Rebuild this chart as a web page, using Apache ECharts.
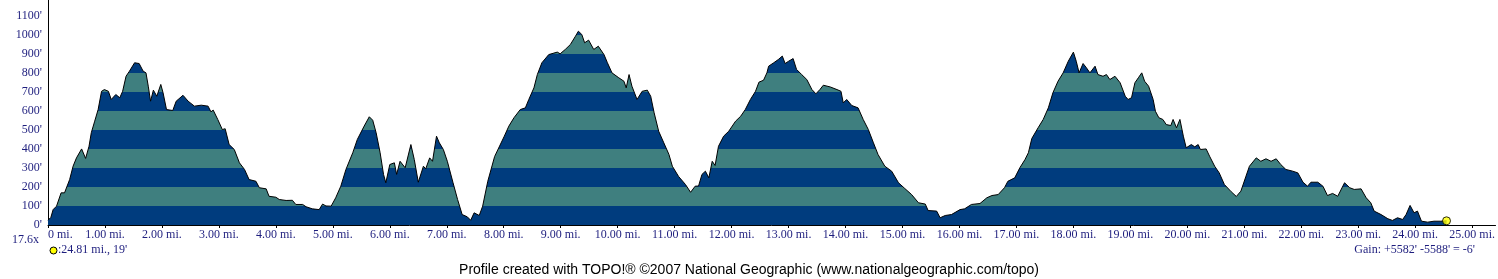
<!DOCTYPE html>
<html><head><meta charset="utf-8">
<script src="https://cdn.jsdelivr.net/npm/echarts@6/dist/echarts.min.js"></script>
<style>html,body{margin:0;padding:0;background:#fff}#c{width:1498px;height:279px}</style>
</head><body><div id="c"></div>
<script>
const miles = [0.00,0.05,0.09,0.15,0.23,0.29,0.38,0.44,0.50,0.59,0.66,0.72,0.76,0.82,0.88,0.94,0.99,1.06,1.11,1.19,1.26,1.31,1.37,1.43,1.52,1.60,1.67,1.72,1.76,1.80,1.85,1.91,1.98,2.02,2.08,2.19,2.25,2.37,2.46,2.57,2.69,2.81,2.86,2.90,2.98,3.06,3.11,3.18,3.27,3.36,3.45,3.53,3.65,3.71,3.83,3.88,4.00,4.06,4.18,4.29,4.35,4.47,4.53,4.64,4.76,4.82,4.88,4.97,5.05,5.14,5.23,5.35,5.43,5.55,5.64,5.70,5.76,5.83,5.89,5.93,6.00,6.08,6.12,6.18,6.27,6.37,6.43,6.50,6.59,6.63,6.70,6.75,6.82,6.87,6.94,7.01,7.11,7.19,7.27,7.36,7.42,7.48,7.57,7.63,7.72,7.84,8.01,8.09,8.18,8.29,8.38,8.44,8.53,8.59,8.67,8.79,8.94,8.99,9.08,9.17,9.26,9.31,9.37,9.42,9.49,9.58,9.66,9.76,9.82,9.90,10.02,10.11,10.15,10.20,10.25,10.34,10.43,10.52,10.58,10.64,10.72,10.81,10.90,10.96,11.07,11.19,11.28,11.36,11.42,11.48,11.54,11.60,11.66,11.71,11.77,11.86,11.95,12.07,12.16,12.24,12.33,12.42,12.48,12.56,12.62,12.65,12.74,12.82,12.89,12.94,13.00,13.08,13.14,13.23,13.32,13.41,13.48,13.55,13.61,13.73,13.85,13.92,13.96,14.02,14.11,14.22,14.31,14.40,14.49,14.57,14.69,14.81,14.93,15.04,15.16,15.28,15.40,15.45,15.60,15.66,15.75,15.86,16.01,16.09,16.21,16.36,16.48,16.57,16.68,16.79,16.85,16.97,17.06,17.15,17.21,17.27,17.38,17.47,17.56,17.64,17.73,17.82,17.91,18.00,18.05,18.10,18.17,18.23,18.29,18.38,18.43,18.52,18.58,18.64,18.73,18.82,18.91,18.96,19.02,19.08,19.14,19.20,19.25,19.32,19.40,19.44,19.50,19.57,19.63,19.71,19.75,19.81,19.87,19.93,19.98,20.07,20.13,20.19,20.23,20.33,20.39,20.48,20.56,20.65,20.77,20.86,20.94,21.03,21.09,21.21,21.29,21.38,21.47,21.56,21.64,21.73,21.85,21.94,22.03,22.11,22.17,22.29,22.38,22.46,22.55,22.64,22.76,22.85,22.93,23.05,23.14,23.22,23.28,23.40,23.52,23.60,23.69,23.78,23.84,23.91,23.98,24.04,24.11,24.22,24.33,24.45,24.55];
const elevation = [25,40,81,99,169,169,239,309,353,400,350,414,485,546,607,703,712,703,660,686,669,703,782,809,853,849,809,800,730,651,709,677,739,695,607,602,651,682,651,625,630,625,595,604,555,502,506,423,397,327,292,239,230,196,190,151,146,134,129,130,108,108,96,85,81,110,100,99,143,204,292,380,450,520,569,551,485,380,266,222,318,327,266,335,301,423,344,225,309,295,353,335,467,432,397,335,222,134,55,43,25,64,50,99,230,360,467,520,564,607,616,660,721,791,853,896,909,900,923,949,993,1019,1002,958,972,923,940,896,853,800,774,756,721,791,730,660,703,709,677,590,493,432,371,309,255,213,172,204,205,266,283,248,335,313,414,467,493,546,572,607,660,703,751,761,800,835,853,870,888,849,861,875,818,791,765,712,690,712,735,726,712,703,642,660,628,616,555,502,432,371,309,283,222,192,160,117,110,76,73,38,50,55,81,85,108,113,143,155,160,196,230,248,301,344,380,455,511,555,616,695,756,800,861,909,861,800,849,826,800,835,791,782,791,765,782,748,677,660,669,748,774,800,756,730,660,598,564,555,528,523,555,511,555,467,406,423,411,423,397,400,362,309,274,213,175,150,178,257,309,353,335,348,335,348,318,292,283,274,225,204,225,225,204,155,166,151,222,196,187,190,143,117,73,55,33,24,38,29,55,103,64,73,20,15,20,20,22];
const scaleLabel = '17.6x';
const cursorLabel = ":24.81 mi., 19'";
const gainLabel = "Gain: +5582' -5588' = -6'";
const creditLabel = 'Profile created with TOPO!\u00ae \u00a92007 National Geographic (www.nationalgeographic.com/topo)';

const navy = '#003c7e', teal = '#3f7f7f', txt = '#1e1e7e';
const pieces = [];
for (let b = 0; b < 1300; b += 100) pieces.push({gte: b, lt: b + 100, color: (b / 100) % 2 === 0 ? navy : teal});
const pts = miles.map((m, i) => [m, elevation[i]]);
const last = pts[pts.length - 1];

const chart = echarts.init(document.getElementById('c'), null, {renderer: 'canvas'});
chart.setOption({
  animation: false,
  backgroundColor: '#fff',
  grid: {left: 48, right: 0, top: 0, bottom: 54},
  xAxis: {
    type: 'value', min: 0, max: 25.41, interval: 1,
    axisLine: {lineStyle: {color: '#000', width: 1}},
    axisTick: {show: true, length: 3, lineStyle: {color: '#000'}},
    splitLine: {show: false},
    axisLabel: {
      color: txt, fontFamily: 'Liberation Serif', fontSize: 12, margin: 4,
      showMaxLabel: false, alignMinLabel: 'left',
      formatter: v => v === 0 ? '0 mi.' : v.toFixed(2) + ' mi.'
    }
  },
  yAxis: {
    type: 'value', min: 0, max: 1183, interval: 100,
    axisLine: {show: true, lineStyle: {color: '#000', width: 1}},
    axisTick: {show: false},
    splitLine: {show: false},
    axisLabel: {color: txt, fontFamily: 'Liberation Serif', fontSize: 12, margin: 6, showMaxLabel: false,
      formatter: v => v + "'"}
  },
  visualMap: {type: 'piecewise', show: false, dimension: 1, seriesIndex: 0, pieces: pieces},
  series: [
    {type: 'line', data: pts, showSymbol: false, symbol: 'none',
     lineStyle: {color: '#000', width: 1}, areaStyle: {opacity: 1}, silent: true},
    {type: 'scatter', data: [last], symbol: 'circle', symbolSize: 8,
     itemStyle: {color: '#ffff00', borderColor: '#000', borderWidth: 1}, z: 5}
  ],
  graphic: [
    {type: 'text', left: 12, top: 234, style: {text: scaleLabel, fill: txt, font: '12px "Liberation Serif"'}},
    {type: 'circle', shape: {cx: 53.5, cy: 250.5, r: 3.5}, style: {fill: '#ffff00', stroke: '#000', lineWidth: 1}},
    {type: 'text', left: 58, top: 244, style: {text: cursorLabel, fill: txt, font: '12px "Liberation Serif"'}},
    {type: 'text', right: 23, top: 244, style: {text: gainLabel, fill: txt, font: '12px "Liberation Serif"'}},
    {type: 'text', left: 'center', top: 263, style: {text: creditLabel, fill: '#000', font: '14px "Liberation Sans"'}}
  ]
});
</script></body></html>
